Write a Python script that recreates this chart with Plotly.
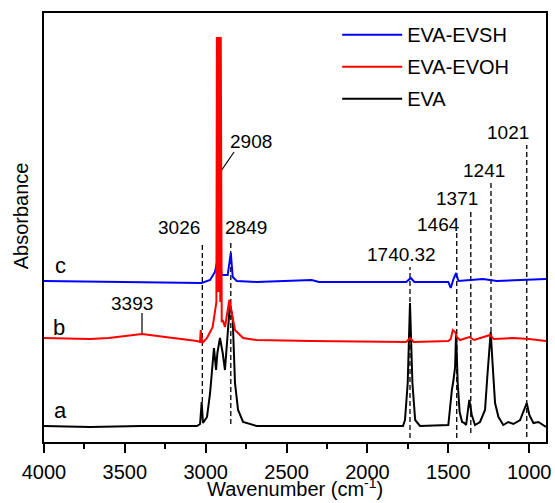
import plotly.graph_objects as go

# ---------------- data ----------------
# a: EVA (black)
eva_wn = [4000, 3716, 3400, 3100, 3054, 3035, 3025, 3017, 2992, 2973, 2957, 2949, 2936, 2928,
          2912, 2895, 2881, 2866, 2850, 2833, 2819, 2800, 2769, 2685, 2345, 2000, 1780, 1768,
          1751, 1737, 1722, 1705, 1675, 1500, 1494, 1478, 1468, 1458, 1452, 1442, 1430, 1415,
          1400, 1390, 1376, 1370, 1355, 1335, 1304, 1273, 1259, 1246, 1238, 1225, 1211, 1190,
          1160, 1129, 1098, 1056, 1032, 1015, 999, 974, 943, 912, 896]
eva_ab = [16, 15, 16, 16, 16, 18, 40, 19, 25, 49, 82, 94, 72, 89,
          104, 89, 72, 109, 139, 122, 59, 32, 20, 16, 16, 16, 16, 22,
          59, 139, 59, 22, 16, 17, 27, 52, 62, 75, 110, 59, 30, 20,
          19, 17, 35, 42, 27, 17, 20, 32, 65, 99, 110, 75, 39, 25,
          17, 20, 18, 22, 32, 39, 27, 19, 20, 17, 15]

# b: EVA-EVOH (red)
evoh_wn = [4000, 3716, 3600, 3394, 3250, 3097, 3054, 3035, 3031, 3021, 2992, 2957, 2936,
           2934, 2931, 2928, 2925, 2922, 2919, 2916, 2913, 2910, 2907, 2904, 2901,
           2895, 2881, 2854, 2839, 2819, 2769, 2685, 2345, 2000, 1760, 1737, 1715, 1500,
           1485, 1472, 1458, 1448, 1427, 1370, 1340, 1242, 1220, 1100, 1000, 896]
evoh_ab = [104, 103, 104, 108, 105, 102, 101, 100, 112, 99, 104, 115, 135,
           140, 405, 150, 405, 160, 405, 150, 405, 140, 405, 130, 120,
           122, 115, 142, 129, 112, 104, 102, 101, 100, 100, 104, 100, 101,
           103, 112, 110, 105, 102, 105, 102, 107, 103, 104, 103, 101]

# c: EVA-EVSH (blue)
evsh_wn = [4000, 3500, 3097, 3025, 2973, 2943, 2918, 2901, 2864, 2845, 2833, 2808, 2685,
           2345, 2300, 1760, 1732, 1710, 1500, 1485, 1468, 1452, 1438, 1286, 1200, 896]
evsh_ab = [161, 160, 159, 159, 162, 170, 189, 167, 167, 189, 165, 161, 160,
           162, 160, 160, 164, 160, 160, 154, 163, 169, 161, 163, 161, 163]

# peak marker lines (dashed) and their labels
peak_labels = ["3026", "2849", "1740.32", "1464", "1371", "1241", "1021"]
peak_line_x = [3021, 2845, 1737, 1448, 1361, 1236, 1015]
peak_line_top = [200, 199, 175, 212, 230, 259, 297]
peak_line_bottom = [40, 18, 4, 4, 9, 110, 5]
peak_label_x = [3023, 2891, 1792, 1563, 1446, 1279, 1131]
peak_label_y = [215, 215, 188, 218, 244, 272, 310]
peak_label_anchor = ["right", "left", "center", "center", "center", "center", "center"]

# labels with solid leader lines
lead_labels = ["3393", "2908"]
lead_label_x = [3456, 2720]
lead_label_y = [139, 301]
lead_x0 = [3394, 2901]
lead_y0 = [107, 272]
lead_x1 = [3394, 2825]
lead_y1 = [129, 290]

curve_letters = ["a", "b", "c"]
letter_x = [3901, 3905, 3901]
letter_y = [32, 115, 177]

FONT = "Liberation Sans, Arial, sans-serif"

fig = go.Figure()

# dashed peak lines (under the spectra)
for x, y0, y1 in zip(peak_line_x, peak_line_bottom, peak_line_top):
    fig.add_trace(go.Scatter(x=[x, x], y=[y0, y1], mode="lines",
                             line=dict(color="black", width=1.3, dash="5px,3px"),
                             showlegend=False, hoverinfo="skip"))
# solid leader lines
for x0, y0, x1, y1 in zip(lead_x0, lead_y0, lead_x1, lead_y1):
    fig.add_trace(go.Scatter(x=[x0, x1], y=[y0, y1], mode="lines",
                             line=dict(color="black", width=1.2),
                             showlegend=False, hoverinfo="skip"))

fig.add_trace(go.Scatter(x=eva_wn, y=eva_ab, mode="lines", name="EVA",
                         line=dict(color="black", width=2), legendrank=3,
                         legendgroup="g3"))
fig.add_trace(go.Scatter(x=evsh_wn, y=evsh_ab, mode="lines", name="EVA-EVSH",
                         line=dict(color="#0000ff", width=2), legendrank=1,
                         legendgroup="g1"))
fig.add_trace(go.Scatter(x=evoh_wn, y=evoh_ab, mode="lines", name="EVA-EVOH",
                         line=dict(color="#ff0000", width=2), legendrank=2,
                         legendgroup="g2"))

for t, x, y, a in zip(peak_labels, peak_label_x, peak_label_y, peak_label_anchor):
    fig.add_annotation(x=x, y=y, text=t, showarrow=False, xanchor=a, yanchor="middle",
                       font=dict(family=FONT, size=19, color="black"))
for t, x, y in zip(lead_labels, lead_label_x, lead_label_y):
    fig.add_annotation(x=x, y=y, text=t, showarrow=False, xanchor="center", yanchor="middle",
                       font=dict(family=FONT, size=19, color="black"))
for t, x, y in zip(curve_letters, letter_x, letter_y):
    fig.add_annotation(x=x, y=y, text=t, showarrow=False, xanchor="center", yanchor="middle",
                       font=dict(family=FONT, size=22, color="black"))

# axis titles
fig.add_annotation(xref="paper", yref="paper", x=-0.045, y=0.527, text="Absorbance",
                   textangle=-90, showarrow=False, xanchor="center", yanchor="middle",
                   font=dict(family=FONT, size=20, color="black"))
fig.add_annotation(xref="paper", yref="paper", x=0.5, y=-0.1395,
                   text="Wavenumber (cm<sup>-1</sup>)",
                   showarrow=False, xanchor="center", yanchor="bottom",
                   font=dict(family=FONT, size=20, color="black"))

fig.update_layout(
    width=555, height=503,
    margin=dict(l=44, r=9, t=13, b=61, autoexpand=False),
    paper_bgcolor="white", plot_bgcolor="white",
    font=dict(family=FONT, size=20, color="black"),
    showlegend=True,
    legend=dict(x=0.584, y=0.995, xanchor="left", yanchor="top",
                bgcolor="rgba(0,0,0,0)", borderwidth=0, itemwidth=60,
                tracegroupgap=3, font=dict(family=FONT, size=20, color="black")),
)
fig.update_xaxes(range=[4000, 896], showgrid=False, zeroline=False, automargin=False,
                 showline=True, linecolor="black", linewidth=1.5, mirror=True,
                 ticks="outside", ticklen=9, tickwidth=1.5, tickcolor="black",
                 tick0=0, dtick=500, ticklabelstandoff=2,
                 minor=dict(ticks="outside", ticklen=5, tickwidth=1.5, tickcolor="black", dtick=250),
                 tickfont=dict(family=FONT, size=20, color="black"))
fig.update_yaxes(range=[0, 429], showgrid=False, zeroline=False, automargin=False,
                 showline=True, linecolor="black", linewidth=1.5, mirror=True,
                 ticks="", showticklabels=False)

fig.write_html("out.html")
